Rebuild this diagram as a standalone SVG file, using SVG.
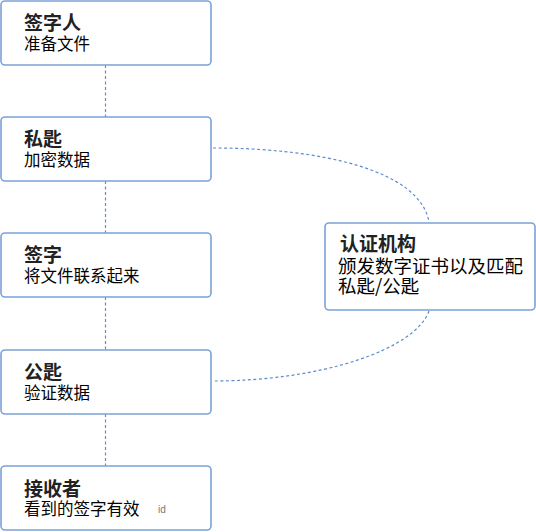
<svg xmlns="http://www.w3.org/2000/svg" width="536" height="532" viewBox="0 0 536 532">
<style>
.box{fill:#fff;stroke:#7aa2d8;stroke-width:1.6}
.t{font-family:"Noto Sans CJK SC","Liberation Sans",sans-serif;font-weight:bold;font-size:19px;fill:#222}
.s{font-family:"Noto Sans CJK SC","Liberation Sans",sans-serif;font-size:16.5px;fill:#000}
.s2{font-family:"Noto Sans CJK SC","Liberation Sans",sans-serif;font-size:18.5px;fill:#000}
.c{fill:none;stroke:#5f8ccc;stroke-width:1.2;stroke-dasharray:3 2.5}
</style>
<rect width="536" height="532" fill="#fff"/>
<g id="connectors">
<line class="c" x1="105.5" y1="65" x2="105.5" y2="117"/>
<line class="c" x1="105.5" y1="181" x2="105.5" y2="233"/>
<line class="c" x1="105.5" y1="297" x2="105.5" y2="350"/>
<line class="c" x1="105.5" y1="414" x2="105.5" y2="466"/>
<path class="c" d="M213,148 C320,148 420,170 429,222"/>
<path class="c" d="M429,311 C415,350 320,381 213,381"/>
</g>
<g id="signer">
<rect class="box" x="1" y="1" width="210" height="64" rx="4"/>
<text class="t" x="24" y="30">签字人</text>
<text class="s" x="24" y="50">准备文件</text>
</g>
<g id="private-key">
<rect class="box" x="1" y="117" width="210" height="64" rx="4"/>
<text class="t" x="24" y="146">私匙</text>
<text class="s" x="24" y="166">加密数据</text>
</g>
<g id="sign">
<rect class="box" x="1" y="233" width="210" height="64" rx="4"/>
<text class="t" x="24" y="262">签字</text>
<text class="s" x="24" y="282">将文件联系起来</text>
</g>
<g id="public-key">
<rect class="box" x="1" y="350" width="210" height="64" rx="4"/>
<text class="t" x="24" y="379">公匙</text>
<text class="s" x="24" y="399">验证数据</text>
</g>
<g id="receiver">
<rect class="box" x="1" y="466" width="210" height="64" rx="4"/>
<text class="t" x="24" y="496">接收者</text>
<text class="s" x="24" y="515">看到的签字有效</text>
<text x="158" y="513" font-family="Liberation Sans,sans-serif" font-size="10" fill="#777">id</text>
</g>
<g id="ca">
<rect class="box" x="325" y="223" width="210" height="87" rx="4"/>
<text class="t" x="340" y="251">认证机构</text>
<text class="s2" x="338" y="273">颁发数字证书以及匹配</text>
<text class="s2" x="338" y="293">私匙/公匙</text>
</g>
</svg>
